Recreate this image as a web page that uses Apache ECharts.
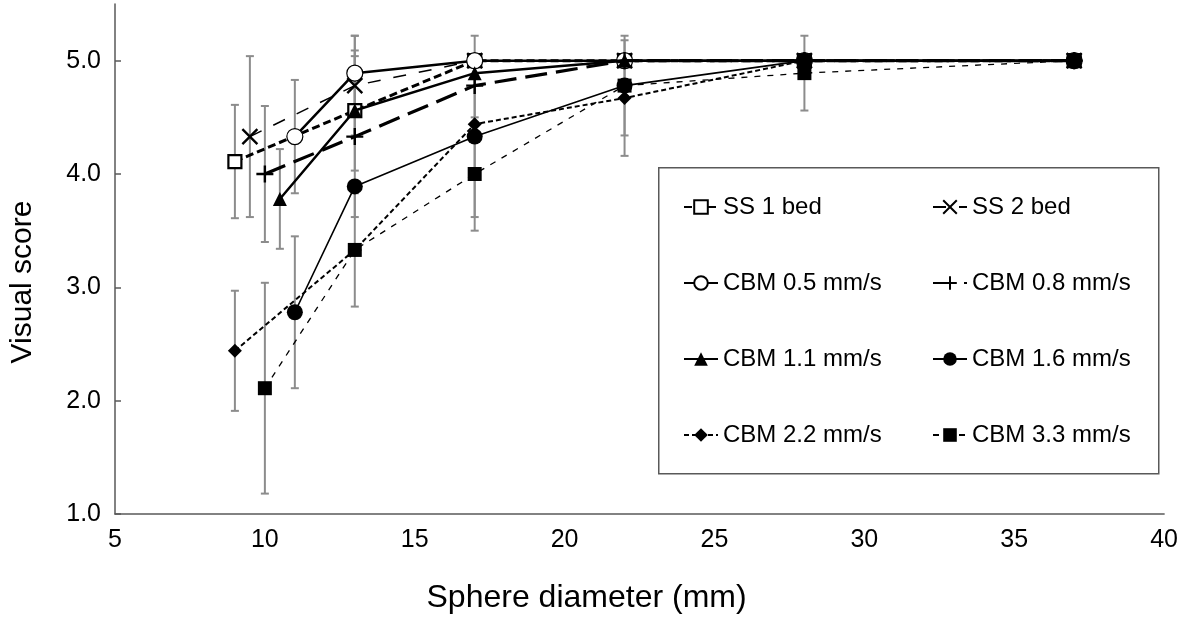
<!DOCTYPE html>
<html>
<head>
<meta charset="utf-8">
<script src="https://cdn.jsdelivr.net/npm/echarts@6/dist/echarts.min.js"></script>
<style>html,body{margin:0;padding:0;background:#fff}#c{width:1181px;height:619px}</style>
</head>
<body>
<div id="c"></div>
<script>
// ---- data ----
const seriesNames = ['SS 1 bed','SS 2 bed','CBM 0.5 mm/s','CBM 0.8 mm/s','CBM 1.1 mm/s','CBM 1.6 mm/s','CBM 2.2 mm/s','CBM 3.3 mm/s'];
const ss1X = [9, 13, 17, 22, 28, 37];
const ss1Y = [4.11, 4.56, 5.0, 5.0, 5.0, 5.0];
const ss1Err = [0.5, 0.53, null, null, null, null];
const ss2X = [9.5, 13, 17, 22, 28, 37];
const ss2Y = [4.33, 4.78, 5.0, 5.0, 5.0, 5.0];
const ss2Err = [0.71, 0.44, null, null, null, null];
const cbm05X = [11, 13, 17, 22, 28, 37];
const cbm05Y = [4.33, 4.89, 5.0, 5.0, 5.0, 5.0];
const cbm05Err = [0.5, 0.33, null, null, null, null];
const cbm08X = [10, 13, 17, 22, 28, 37];
const cbm08Y = [4.0, 4.33, 4.78, 5.0, 5.0, 5.0];
const cbm08Err = [0.6, 0.71, 0.44, null, null, null];
const cbm11X = [10.5, 13, 17, 22, 28, 37];
const cbm11Y = [3.78, 4.56, 4.89, 5.0, 5.0, 5.0];
const cbm11Err = [0.44, null, null, null, null, null];
const cbm16X = [11, 13, 17, 22, 28, 37];
const cbm16Y = [2.78, 3.89, 4.33, 4.78, 5.0, 5.0];
const cbm16Err = [0.67, null, 0.71, 0.44, null, null];
const cbm22X = [9, 13, 17, 22, 28, 37];
const cbm22Y = [2.44, 3.33, 4.44, 4.67, 5.0, 5.0];
const cbm22Err = [0.53, null, null, 0.51, null, null];
const cbm33X = [10, 13, 17, 22, 28, 37];
const cbm33Y = [2.11, 3.33, 4.0, 4.78, 4.89, 5.0];
const cbm33Err = [0.93, 0.5, 0.5, null, 0.33, null];
const xTicks = [5, 10, 15, 20, 25, 30, 35, 40];
const yTicks = [1, 2, 3, 4, 5];

// ---- build ----
const FONT = 'Liberation Sans, Arial, sans-serif';
const xs = [ss1X, ss2X, cbm05X, cbm08X, cbm11X, cbm16X, cbm22X, cbm33X];
const ys = [ss1Y, ss2Y, cbm05Y, cbm08Y, cbm11Y, cbm16Y, cbm22Y, cbm33Y];
const es = [ss1Err, ss2Err, cbm05Err, cbm08Err, cbm11Err, cbm16Err, cbm22Err, cbm33Err];

const styles = [
  {symbol:'rect', size:13, fill:'#fff', bw:2.2, line:{width:3, type:[8,4]}},
  {symbol:'path://M0,0L10,10M10,0L0,10', size:15, fill:'#000', bw:2.4, line:{width:1.5, type:[13,13]}},
  {symbol:'circle', size:16, fill:'#fff', bw:1.2, line:{width:2.5, type:'solid'}},
  {symbol:'path://M5,0L5,10M0,5L10,5', size:17, fill:'#000', bw:2.4, line:{width:3.2, type:[22,9]}},
  {symbol:'triangle', size:14, fill:'#000', bw:0, line:{width:2.5, type:'solid'}},
  {symbol:'circle', size:16, fill:'#000', bw:0, line:{width:1.6, type:'solid'}},
  {symbol:'diamond', size:14, fill:'#000', bw:0, line:{width:2, type:[5,3]}},
  {symbol:'rect', size:14, fill:'#000', bw:0, line:{width:1.3, type:[6,7]}}
];

const errData = [];
xs.forEach((xa, s) => xa.forEach((x, i) => {
  const e = es[s][i];
  if (e != null) errData.push([x, ys[s][i] - e, ys[s][i] + e]);
}));

const series = [{
  type: 'custom',
  name: 'err',
  z: 1,
  silent: true,
  renderItem: function (params, api) {
    const x = api.value(0);
    const lo = api.coord([x, api.value(1)]);
    const hi = api.coord([x, api.value(2)]);
    const cap = 4;
    const st = {stroke: '#8c8c8c', lineWidth: 2};
    return {type: 'group', children: [
      {type: 'line', shape: {x1: lo[0], y1: lo[1], x2: hi[0], y2: hi[1]}, style: st},
      {type: 'line', shape: {x1: lo[0]-cap, y1: lo[1], x2: lo[0]+cap, y2: lo[1]}, style: st},
      {type: 'line', shape: {x1: hi[0]-cap, y1: hi[1], x2: hi[0]+cap, y2: hi[1]}, style: st}
    ]};
  },
  encode: {x: 0, y: [1, 2]},
  data: errData
}];

seriesNames.forEach((name, s) => {
  const st = styles[s];
  series.push({
    type: 'line',
    name: name,
    z: 3 + s,
    data: xs[s].map((x, i) => [x, ys[s][i]]),
    symbol: st.symbol,
    symbolSize: st.size,
    showAllSymbol: true,
    lineStyle: {color: '#000', width: st.line.width, type: st.line.type},
    itemStyle: {color: st.fill, borderColor: '#000', borderWidth: st.bw},
    emphasis: {disabled: true},
    animation: false
  });
});

const legendCommon = {
  orient: 'vertical',
  itemWidth: 34,
  itemHeight: 17,
  itemGap: 50,
  textStyle: {fontFamily: FONT, fontSize: 24, color: '#000', lineHeight: 26},
  selectedMode: false
};

const option = {
  animation: false,
  backgroundColor: '#fff',
  grid: {left: 114, right: 16, top: 4, bottom: 105},
  xAxis: {
    type: 'value', min: 5, max: 40, interval: 5,
    axisLine: {show: true, lineStyle: {color: '#595959', width: 1.5}},
    axisTick: {show: false},
    splitLine: {show: false},
    axisLabel: {fontFamily: FONT, fontSize: 25, color: '#000', margin: 14,
      customValues: xTicks},
    name: 'Sphere diameter (mm)', nameLocation: 'middle', nameGap: 68,
    nameTextStyle: {fontFamily: FONT, fontSize: 32, color: '#000', padding: [0, 106, 0, 0]}
  },
  yAxis: {
    type: 'value', min: 1, max: 5.5, interval: 1,
    axisLine: {show: true, lineStyle: {color: '#595959', width: 1.5}},
    axisTick: {show: true, inside: true, length: 6, lineStyle: {color: '#595959', width: 1.5}, customValues: yTicks},
    splitLine: {show: false},
    axisLabel: {fontFamily: FONT, fontSize: 25, color: '#000', margin: 14,
      customValues: yTicks, formatter: v => Number(v).toFixed(1)},
    name: 'Visual score', nameLocation: 'middle', nameGap: 77,
    nameTextStyle: {fontFamily: FONT, fontSize: 30, color: '#000', padding: [0, 46, 0, 0]}
  },
  legend: [
    Object.assign({left: 678, top: 189, data: [seriesNames[0], seriesNames[2], seriesNames[4], seriesNames[6]]}, legendCommon),
    Object.assign({left: 927, top: 189, data: [seriesNames[1], seriesNames[3], seriesNames[5], seriesNames[7]]}, legendCommon)
  ],
  graphic: [{
    type: 'rect', left: 658, top: 167, z: 0,
    shape: {width: 500, height: 306},
    style: {fill: '#fff', stroke: '#595959', lineWidth: 1.5}
  }],
  series: series
};

const chart = echarts.init(document.getElementById('c'), null, {renderer: 'canvas'});
chart.setOption(option);
</script>
</body>
</html>
